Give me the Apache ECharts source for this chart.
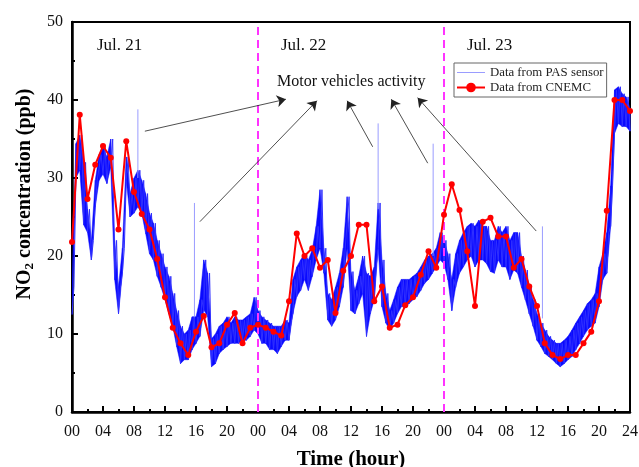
<!DOCTYPE html>
<html>
<head>
<meta charset="utf-8">
<script src="https://cdn.jsdelivr.net/npm/echarts@6/dist/echarts.min.js"></script>
<style>html,body{margin:0;padding:0;background:#fff;}#c{width:639px;height:467px;}</style>
</head>
<body>
<div id="c"></div>
<script>
// ---- data ----
const xTickLabels = ['00','04','08','12','16','20','00','04','08','12','16','20','00','04','08','12','16','20','24'];
const dayLabels = ['Jul. 21','Jul. 22','Jul. 23'];

// CNEMC hourly values, hour 0..72
const cnemcHours = [0,1,2,3,4,5,6,7,8,9,10,11,12,13,14,15,16,17,18,19,20,21,22,23,24,25,26,27,28,29,30,31,32,33,34,35,36,37,38,39,40,41,42,43,44,45,46,47,48,49,50,51,52,53,54,55,56,57,58,59,60,61,62,63,64,65,66,67,68,69,70,71,72];
const cnemcValues = [21.8,38.1,27.3,31.7,34.1,32.6,23.4,34.7,28.2,25.4,23.4,19.6,14.7,10.8,8.8,7.3,10.3,12.3,8.3,8.8,11.2,12.7,8.8,10.8,11.2,10.8,10.3,9.8,14.2,22.9,20.0,21.0,18.5,19.5,12.7,18.1,20.0,24.0,24.0,14.2,16.1,10.8,11.2,13.7,14.7,17.6,20.6,18.5,25.3,29.2,25.9,20.6,13.6,24.4,24.9,22.5,22.5,18.5,19.6,16.1,13.6,8.8,7.3,6.8,7.3,7.3,8.8,10.3,14.2,25.8,40.0,40.0,38.6];

// PAS sensor band, read every half hour (hour 0..72): lower and upper edge
const pasStep = 0.5;
const pasLow = [12.5,30,31,24,23,19.5,26.3,29.7,30.5,29.3,31.4,17,12.6,17.8,29.7,25,25.5,26.3,25.5,22.9,20.3,19.5,17.4,16,14.4,12.6,11,8.4,6.2,6.7,6.7,8,8.8,9.7,13.1,12.2,5.8,6.2,7.5,8,8.4,8.8,8.8,8.8,9.2,9.2,9.7,10.5,10,8.8,8.8,8,8,7.5,8.4,9.2,9.2,12.6,14.8,15.6,17,15.6,17.4,19.5,21,17.8,11.8,11,11.8,13.5,16,21,13,12.6,13.9,15.2,9.7,12.6,14.4,21,13.5,11.4,10.5,11.4,12.6,13.5,13.5,13.9,14.4,14.8,15.6,16.5,17,17.8,18.6,19.5,19,17,13,16,17.8,18.6,19.5,20,18.6,19.5,19.5,19,18,17.8,19.5,18.6,18.6,17,18.2,17.8,16,14.4,12.6,11,9.2,8.4,7.5,7.1,6.7,6.2,5.8,6.2,6.7,7.1,8,8.8,9.7,10.5,11,11.4,13.5,17,17.8,23.8,35.7,37,36.6,36.6,36];
const pasHigh = [16,34.4,35.5,32,26,22,29.7,33,34,32.7,35,22,16,21,32.7,28,30,31,29.7,28,25.5,24.2,22,20.3,18.6,17.4,15.2,13,11,10,10.5,12.2,12.2,14.4,19.5,17.8,9.4,10,11,11.4,12.2,11.4,12.2,11.8,11.8,12.2,12.6,14.7,13,12.2,11.8,11.4,11,11,11,11.8,11.4,17,18.6,19.5,20.3,19.5,20.8,23.8,28.5,21,15.2,14.4,16,17.8,21,27.6,18,15.6,17.4,20,17.8,17.4,18.6,26.8,19.5,15.2,13,14.4,16,17,17,17,17.4,17.8,18.6,19.5,20,20.3,21,23,22,20.3,17,20.3,22,23,23.8,24.2,23.8,24.6,23.8,23.8,22,22,23.8,23,23.8,22,23,23,20,18.2,16,14.4,12.6,11.4,10.5,9.7,9.2,8.8,8.8,9.2,9.7,10.5,11.4,12.2,13,13.9,14.4,15.2,18.6,20.3,23,29,41.3,41.7,40.8,40.4,39];

// isolated PAS spikes ("motor vehicles activity")
const spikeHours = [8.5,15.8,39.5,46.6,60.7];
const spikeBases = [30,12,26,20,12];
const spikePeaks = [38.8,26.8,37,34.4,23.8];

// annotation arrows in data coordinates
const arrowStartH = [9.4,16.5,38.8,45.9,59.9];
const arrowStartV = [36.0,24.4,34.0,31.9,23.2];
const arrowEndH = [27.6,31.6,35.5,41.2,44.6];
const arrowEndV = [40.1,39.9,39.9,40.1,40.3];
const dayBoundaries = [24,48];

// ---- build series data ----
const pasZigzag = [];
for (let i = 0; i < pasLow.length; i++) {
  const t = i * pasStep;
  pasZigzag.push([t, pasLow[i]]);
  pasZigzag.push([Math.min(t + pasStep / 2, 72), pasHigh[i]]);
}
const bandData = pasLow.map((v, i) => [i * pasStep, v, pasHigh[i]]);
const spikeData = [];
spikeHours.forEach((h, i) => {
  spikeData.push([h, spikeBases[i]], [h, spikePeaks[i]], '-');
});
const cnemcData = cnemcHours.map((h, i) => [h, cnemcValues[i]]);
const arrowLines = arrowStartH.map((h, i) => [
  { coord: [h, arrowStartV[i]] },
  { coord: [arrowEndH[i], arrowEndV[i]] }
]);

function renderBand(params, api) {
  const i = params.dataIndex;
  if (i >= bandData.length - 1) return null;
  const a = bandData[i], b = bandData[i + 1];
  const pts = [
    api.coord([a[0], a[1]]), api.coord([a[0], a[2]]),
    api.coord([b[0], b[2]]), api.coord([b[0], b[1]])
  ];
  return {
    type: 'polygon',
    shape: { points: pts },
    style: { fill: '#0a0aff', stroke: '#0a0aff', lineWidth: 0.5 }
  };
}

const serif = 'Liberation Serif';
const chart = echarts.init(document.getElementById('c'), null, { renderer: 'canvas' });
chart.setOption({
  animation: false,
  backgroundColor: '#fff',
  grid: { left: 72, right: 9, top: 22, bottom: 55, show: true, borderColor: '#000', borderWidth: 2,
    containLabel: false, outerBoundsMode: 'none' },
  legend: {
    orient: 'vertical', left: 454, top: 63,
    padding: [3, 3, 3, 2], itemGap: 2, itemWidth: 28, itemHeight: 12,
    borderColor: '#666', borderWidth: 1, backgroundColor: '#fff',
    textStyle: { fontFamily: serif, fontSize: 12.8, color: '#222' },
    data: [
      { name: 'Data from PAS sensor', itemStyle: { opacity: 0 }, lineStyle: { color: '#9a9cff', width: 1 } },
      { name: 'Data from CNEMC' }
    ]
  },
  xAxis: {
    type: 'value', min: 0, max: 72, interval: 4,
    name: 'Time (hour)', nameLocation: 'middle', nameGap: 37,
    nameTextStyle: { fontFamily: serif, fontSize: 21, fontWeight: 'bold', color: '#000' },
    axisLine: { onZero: false, lineStyle: { color: '#000', width: 2.5 } },
    axisTick: { inside: true, length: 6, lineStyle: { color: '#000', width: 2 } },
    minorTick: { show: true, splitNumber: 2, length: 3, lineStyle: { color: '#000', width: 2 } },
    axisLabel: { fontFamily: serif, fontSize: 16, color: '#111', margin: 12,
      formatter: v => xTickLabels[Math.round(v / 4)] },
    splitLine: { show: false }
  },
  yAxis: {
    type: 'value', min: 0, max: 50, interval: 10,
    name: '{a|NO}{b|2}{a| concentration (ppb)}', nameLocation: 'middle', nameGap: 34,
    nameTextStyle: { padding: [0, 0, 0, 46], rich: {
      a: { fontFamily: serif, fontSize: 20, fontWeight: 'bold', color: '#000', lineHeight: 24 },
      b: { fontFamily: serif, fontSize: 13, fontWeight: 'bold', color: '#000', lineHeight: 24, padding: [10, 0, 0, 0] }
    } },
    axisLine: { show: true, lineStyle: { color: '#000', width: 2.5 } },
    axisTick: { inside: true, length: 6, lineStyle: { color: '#000', width: 2 } },
    minorTick: { show: true, splitNumber: 2, length: 3, lineStyle: { color: '#000', width: 2 } },
    axisLabel: { fontFamily: serif, fontSize: 16, color: '#111', margin: 9 },
    splitLine: { show: false }
  },
  graphic: [
    { type: 'text', left: 97, top: 37, style: { text: dayLabels[0], font: '17px "Liberation Serif"', fill: '#111' } },
    { type: 'text', left: 281, top: 37, style: { text: dayLabels[1], font: '17px "Liberation Serif"', fill: '#111' } },
    { type: 'text', left: 467, top: 37, style: { text: dayLabels[2], font: '17px "Liberation Serif"', fill: '#111' } },
    { type: 'text', left: 277, top: 74, style: { text: 'Motor vehicles activity', font: '16px "Liberation Serif"', fill: '#111' } }
  ],
  series: [
    {
      name: 'Data from PAS sensor', type: 'line', data: spikeData, showSymbol: false, symbol: 'none',
      lineStyle: { color: '#9a9cff', width: 1 }, itemStyle: { color: '#9a9cff' }, connectNulls: false, z: 2,
      markLine: {
        silent: true, symbol: ['none', 'none'], label: { show: false },
        lineStyle: { color: '#ff33ff', type: [8, 5], width: 2 },
        data: dayBoundaries.map(h => ({ xAxis: h }))
      }
    },
    {
      name: 'pasBand', type: 'custom', data: bandData, renderItem: renderBand,
      encode: { x: 0, y: [1, 2] }, clip: true, z: 2
    },
    {
      name: 'Data from PAS sensor', type: 'line', data: pasZigzag, showSymbol: false, symbol: 'none',
      lineStyle: { color: '#3030ff', width: 1 }, itemStyle: { color: '#9a9cff' }, z: 3,
      markLine: {
        silent: true, symbol: ['none', 'arrow'], symbolSize: 9, label: { show: false },
        lineStyle: { color: '#222', type: 'solid', width: 0.8 },
        data: arrowLines
      }
    },
    {
      name: 'Data from CNEMC', type: 'line', data: cnemcData, symbol: 'circle', symbolSize: 6,
      lineStyle: { color: '#ff0000', width: 2 }, itemStyle: { color: '#ff0000' }, z: 5
    }
  ]
});
</script>
</body>
</html>
